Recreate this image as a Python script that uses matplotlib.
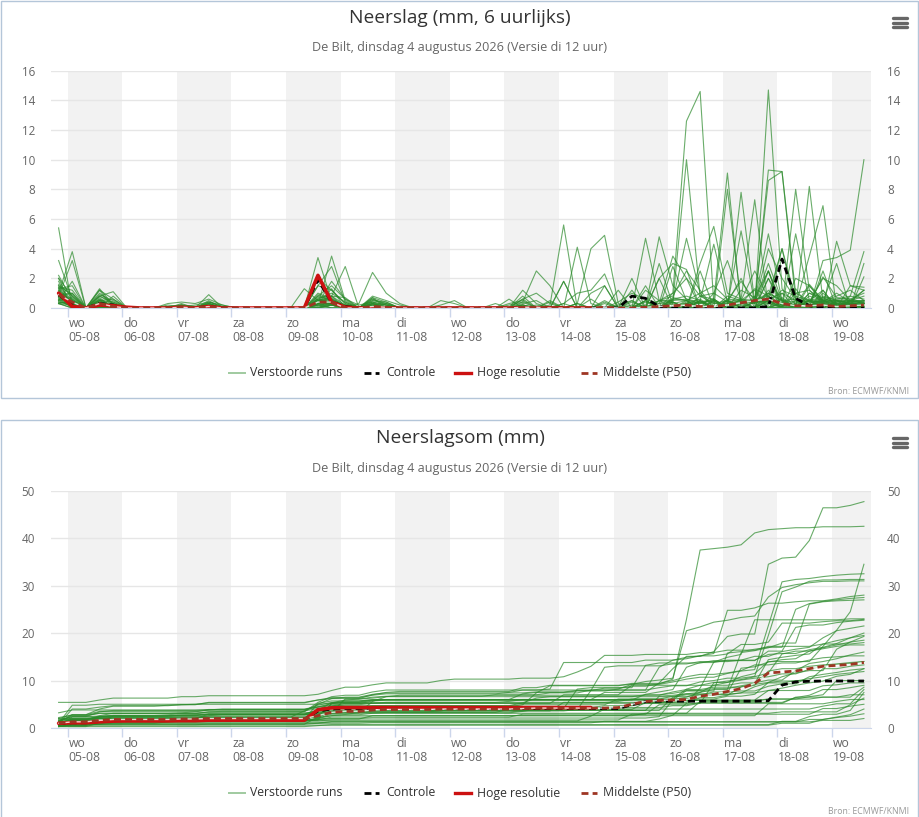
import numpy as np
import pandas as pd
import matplotlib
matplotlib.use('Agg')
import matplotlib.pyplot as plt
from matplotlib.lines import Line2D
from matplotlib.patches import Rectangle

plt.rcParams['font.family'] = ['Open Sans', 'DejaVu Sans']

# ---------------- data ----------------
first_time = '2026-08-04 20:00'   # first 6-hourly value (local time)
n_steps = 60
day_names = ['wo', 'do', 'vr', 'za', 'zo', 'ma', 'di', 'wo', 'do', 'vr', 'za', 'zo', 'ma', 'di', 'wo']
day_dates = ['05-08', '06-08', '07-08', '08-08', '09-08', '10-08', '11-08', '12-08',
             '13-08', '14-08', '15-08', '16-08', '17-08', '18-08', '19-08']

# perturbed ensemble members, 6-hourly precipitation (mm)
run01 = [5.4,0,0,0.5,0.4,0,0,0,0,0.3,0,0.2, 0,0,0,0,0,0,0,0.3,0.8,0.7,0,0.5,
         0.4,0,0,0,0.5,0.3,0,0,0,0,0.2,0, 0,0.3,1.0,1.2,2.3,0,0,0.2,0,0,0,0.4,
         0,0.5,0,0,0.8,0,0,0,0.5,0,0,0.3]
run02 = [1.2,0.4,0,0.8,0.3,0,0,0,0.1,0.2,0,0.4, 0.1,0,0,0,0,0,0,1.5,1.2,0.3,0,0.6,
         0.3,0,0,0,0,0,0,0,0,0,0,0.2, 0,0,0.3,0,0.5,0,0.4,0,0.5,1.0,12.6,14.6,
         0.3,0.3,0.5,2.5,0.7,0.2,0.2,0,0.2,0,0,0.1]
run03 = [0.8,1.0,0,0.6,0.1,0,0,0,0,0.1,0,0.3, 0,0,0,0,0,0,0,0.6,1.0,0.4,0,0.3,
         0.2,0,0,0,0,0,0,0,0,0.2,0.4,0, 0,0,0,0,1.5,0,0,0,2.0,3.0,2.6,0,
         1.0,3.2,0.5,0,14.7,1.3,0.2,3.5,6.9,0,0.5,0.8]
run04 = [2.0,0.8,0,1.2,0.6,0,0,0,0.2,0.1,0,0.5, 0,0,0,0,0,0,0,0.5,0.3,0,0,0.8,
         0.5,0.2,0,0,0,0,0,0,0,0,0.8,0, 0.5,0,0,0,0,0,0.2,0,0,0.5,0.6,0.4,
         0,0.8,0.5,0.3,9.3,9.2,0.5,0.2,0.4,0.3,0.2,0.1]
run05 = [1.5,0.5,0,0.3,0.2,0,0,0,0,0.2,0,0.3, 0,0,0,0,0,0,0,0.8,1.5,0.6,0.2,0.4,
         0.2,0,0,0,0,0,0,0,0.3,0,0,0, 0.4,0,0,0.6,0,0,0,0,0.5,0.4,0,0.8,
         0.3,0.5,0,0.4,8.6,9.2,1.0,1.2,0.3,0,0.1,0]
run06 = [0.7,0.3,0,0.2,0.1,0,0,0,0,0.1,0,0.2, 0,0,0,0,0,0,0,0.4,0.6,0.2,0,0.3,
         0.1,0,0,0,0,0,0,0,0,0,0.3,0.5, 0,0.3,0,0,0.4,0,0,0.5,0,1.0,2.0,0.8,
         0.6,0,1.2,0.7,2.5,0,0,0,3.2,3.4,3.9,10.0]
run07 = [0.8,3.2,0,0.4,0.3,0,0,0,0,0.2,0.1,0.3, 0,0,0,0,0,0,0,0.6,0.5,0,0,0.5,
         0.3,0,0,0,0,0,0,0,0,0.3,0.5,0, 0.2,5.6,0,0,0,0,0,0.5,0,0,0.3,0.6,
         0,0.4,2.0,0,0.5,4.0,0,0,0.3,0.2,0,0.3]
run08 = [1.0,0.6,0,0.5,0,0,0,0,0,0,0,0.1, 0,0,0,0,0,0,0,0.3,0.7,0,0,0.2,
         0,0,0,0,0,0,0,0,0,0,0.2,0, 0,0,0.3,4.0,4.9,0.3,0,0,0,0.4,0,0.5,
         0,0,0.3,0,1.2,0.2,0,0.8,0.5,0.8,1.2,0.5]
run09 = [0.6,0.2,0,0,0.2,0,0,0,0.3,0.4,0.3,0.6, 0.2,0,0,0,0,0,0,0.2,0.4,0,0,0,
         0,0,0,0,0.2,0.5,0,0,0,0,0,0, 0,0,4.1,0.3,0,0,0,4.7,0.5,0,0,0,
         0.5,0,0,0,2.0,0,5.0,0.5,0,0.5,0.3,0.2]
run10 = [1.4,0.3,0,0.9,0.5,0,0,0,0,0,0,0.3, 0,0,0,0,0,0,0,2.0,1.2,0.3,0,0.7,
         0.4,0,0,0,0,0,0,0,0,0,0,0, 0,0,0,0,0,0,0,0,4.8,1.5,0.6,0.3,
         0.5,9.1,0,0.5,1.0,0,0.3,0.2,0,0.4,0.5,0.3]
run11 = [0.9,1.0,0,0.3,0,0,0,0,0,0.1,0,0, 0,0,0,0,0,0,1.3,0.5,0.3,0,0,0.3,
         0,0,0,0,0,0,0,0,0,0,0.6,1.0, 0.3,0,0,0,0,0,0,0.4,0,0.3,0.5,0,
         0,8.0,0.3,0.5,0.4,0,8.0,1.2,0.5,0.3,0.3,0.2]
run12 = [1.6,0.8,0,1.0,0.3,0,0,0,0,0,0,0.2, 0,0,0,0,0,0,0,0.5,0.8,0.2,0,0,
         0,0,0,0,0,0,0,0,0,0,0,0, 0,0,0,0,0,0.2,0.5,0,0,0.6,0.5,0.3,
         0.6,0,7.8,0.4,0.6,1.0,0,8.2,0.5,0.2,0.1,0.1]
run13 = [1.3,1.5,0,0.7,0,0,0,0,0,0,0,0.3, 0,0,0,0,0,0,0,1.0,0.6,0,0,0.4,
         0.2,0,0,0,0,0,0,0,0,0,1.2,0.3, 0,0,0.3,0,0,0.4,1.0,0.6,0.3,0.4,10.0,0.8,
         1.0,0.4,0.6,0.3,4.0,2.0,0.6,0.4,0.3,0,0.1,0]
run14 = [0.5,0.1,0,0.8,1.1,0,0,0,0.1,0.1,0,0.1, 0,0,0,0,0,0,0,0.3,0.3,0,0,0.2,
         0,0,0,0,0,0,0,0,0,0,0,0, 0,1.8,0,0,0,0,0,0,0,0,0,3.0,
         5.5,1.0,0.6,7.3,0,0,0,0,0,0,0.2,0]
run15 = [2.2,0.5,0,0.4,0,0,0,0,0,0.1,0.2,0.4, 0.2,0,0,0,0,0,0,0.5,0.4,0.2,0,0.6,
         0.2,0,0,0,0,0,0,0,0,0,0,0, 0,0,0,0,0,0,0,1.2,0.5,0.5,4.7,1.0,
         0,0.5,0,0.8,0,1.0,0.5,0.4,2.0,1.5,0.5,0.5]
run16 = [0.8,0.2,0,0.3,0.2,0,0,0,0,0,0,0, 0,0,0,0,0,0,0,0.3,0.2,0,0,0.1,
         0,0,0,0,0,0,0,0,0,0,0,0, 0,0,0,0,0,0,0,0,0.3,3.5,2.0,0,
         0.4,0,0.6,0.5,5.0,0.5,0.4,0.3,2.1,0.7,0.6,1.0]
run17 = [0.4,0.3,0,0,0,0,0,0,0,0,0,0.1, 0,0,0,0,0,0,0,0.2,0,0,0,0.1,
         0,0,0,0,0,0,0,0,0,0,0,0, 0,0,0,0,0.3,0,0,0,0.5,0.8,2.5,1.2,
         0,0.5,1.8,0.5,0.4,1.2,0.8,0.5,0,4.5,1.5,1.2]
run18 = [1.4,1.2,0,0.5,0,0,0,0,0,0,0,0.1, 0,0,0,0,0,0,0,0.1,0.5,0,0,0.3,
         0,0,0,0,0,0,0,0,0,0,0.2,0, 0,0,0,0,0,0,0,0,0,0.4,0,0.5,
         4.3,0.4,0.3,0.6,0.8,4.0,0.6,0,0.7,0.6,0.6,0.4]
run19 = [1.1,0,0,1.3,0.2,0,0,0,0,0.1,0.1,0, 0,0,0,0,0,0,0,0.5,0.2,0,0,0.2,
         0,0,0,0,0,0,0,0,0,0,0,0, 0,0,0,0,0,0,0,0,3.0,0.2,0.3,0,
         0,0.2,5.2,0.3,1.0,0.5,0.2,1.6,0.5,0.5,0.3,0]
run20 = [1.0,3.8,0,0.2,0,0,0,0,0,0,0,0, 0,0,0,0,0,0,0,0,0.2,0,0,0,
         0,0,0,0,0,0,0,0,0,0,0,0, 0,1.8,0,0,0,0,2.0,0,0,0,0,0,
         0,0,0.5,0,0.6,0,2.0,1.5,0.4,0.6,0.8,0.6]
run21 = [0.9,0.5,0,0.6,0,0,0,0,0,0,0,0.9, 0,0,0,0,0,0,0,0.9,0.5,0.1,0,0,
         0.1,0,0,0,0,0,0,0,0,0,0.4,2.5, 1.5,0,0,0,0,0,0.5,0,0,0.6,0.8,0.5,
         0,0.3,0.5,1.2,0,0.4,0,0.6,0.5,0.2,0.2,0]
run22 = [0.5,0.7,0,0.1,0,0,0,0,0,0,0,0.1, 0,0,0,0,0,0,0,0.7,0.8,0,0.3,2.4,
         1.0,0.3,0,0,0,0,0,0,0,0,0,0, 0,0,0,0,0,0,0,0,0,0.7,0.5,0,
         0.5,0,0,0.4,3.0,0.5,0,0.5,0.3,0.2,0.3,0.2]
run23 = [1.3,0.3,0,0,0,0,0,0,0,0.2,0,0, 0,0,0,0,0,0,0,3.4,0.5,0,0,0.3,
         0,0,0,0,0,0,0,0,0,0,0,0, 0,0,0,0,0,0,0,0,0,0,0.5,1.0,
         1.5,0.6,0.5,0.4,0.3,0.6,0,1.0,0.7,0.3,0.2,0.4]
run24 = [0.3,0,0,0.8,0.4,0,0,0,0,0,0,0, 0,0,0,0,0,0,0,0.2,3.5,0.5,0,0.2,
         0,0,0,0,0,0,0,0,0,0,0,0, 0,0,0,0,0,0,0,0,0,0,0.3,0.4,
         0.5,0,0.3,1.3,0.8,0,0.5,0,2.5,0,0.5,0.3]
run25 = [1.2,0.1,0,0.3,0,0,0,0,0,0,0,0.4, 0.1,0,0,0,0,0,0,0.4,0.8,2.8,0,0.2,
         0.3,0,0,0,0,0,0,0,0,0,0,0, 0,0,0,0,0,0,0,0,0,0,0,0.4,
         0.6,0,0.2,0,1.0,0.5,0,1.5,0.5,0.4,0.5,0.3]
run26 = [0.6,0,0,0.2,0,0,0,0,0,0,0,0, 0,0,0,0,0,0,0,1.5,2.8,0.4,0,0.4,
         0,0,0,0,0,0,0,0,0,0,0,0, 0,0,0,0,0,0,0,0,0,0,0,0,
         0,0,0,0,2.0,0.5,0.6,0.5,0.4,1.0,0.4,1.2]
run27 = [3.2,0.6,0,0,0,0,0,0,0,0,0,0, 0,0,0,0,0,0,0,0.6,0.3,0,0,0,
         0,0,0,0,0,0,0,0,0,0,0.2,0, 0,0,0,0,0,1.2,0,0,0,0,0,0,
         0,0.6,0,0.4,2.5,0.3,0,0.5,0.4,0.5,0.3,0.3]
run28 = [0.4,0.3,0,0.5,0.6,0,0,0,0,0,0,0, 0,0,0,0,0,0,0,0.8,0.5,0.2,0,0,
         0,0,0,0,0,0,0,0,0,0.6,0,0, 0,0,0,0,0,0,0,1.5,0,0,0.4,0,
         0,0,0,0,0.3,0,0,0.5,0.4,3.0,0,0]
run29 = [1.8,0,0,0.2,0,0,0,0,0,0,0,0, 0,0,0,0,0,0,0,0.3,1.3,0,0,0.1,
         0,0,0,0,0,0,0,0,0,0,0,0, 0,0,0,0,0,0,0,0,0,2.8,0.5,0,
         0,0,0.4,0,0.5,0,0,0,1.0,0.2,0.4,0]
run30 = [0.3,0.2,0,1.2,0,0,0,0,0,0,0,0, 0,0,0,0,0,0,0,0,0.6,0,0,0,
         0,0,0,0,0,0,0,0,0,0,0.6,0, 0,0,0,0,0,0,0,0,2.0,0,0,0.5,
         0,0,0,0,0,0,1.0,0.5,1.2,0,0.4,0.5]
run31 = [0.5,1.8,0,0,0,0,0,0,0,0,0,0, 0,0,0,0,0,0,0,0.5,0.3,0,0,0,
         0,0,0,0,0,0,0,0,0,0,0,0, 0,0,0,0,0,0,0,0,0,0,0,2.5,
         0,0,0,0,0.5,0,0,0,0.4,0,0,2.1]
run32 = [1.0,0.2,0,0.3,0,0,0,0,0,0,0,0, 0,0,0,0,0,0,0,0,0,0,0,0,
         0,0,0,0,0,0,0,0,0,0,0,0, 0,0,0,1.0,1.5,0,0,0,0,0,0,0,
         0,0,0,0,0,0,0,0,0.6,0.5,0,3.0]
run33 = [0.3,0,0,0,0,0,0,0,0,0,0,0, 0,0,0,0,0,0,0,0.2,0.2,0,0,0,
         0,0,0,0,0,0,0,0,0,0,0,0, 0,0,0,0,0,0,0,0,0,0,0,0,
         0,0,0,0,0,0.7,0,1.0,0.5,0,0.8,3.8]
run34 = [1.5,0.9,0,0.1,0,0,0,0,0,0,0,0, 0,0,0,0,0,0,0,0.3,1.8,0.6,0,0,
         0,0,0,0,0,0,0,0,0,0,0,0, 0,0,0,0,0,0,0,0,0,0,0,0,
         0,0,0,0,0,0,1.3,0,0,0,0.5,0]
run35 = [0.7,0.1,0,0,0.8,0,0,0,0,0,0,0, 0,0,0,0,0,0,0,0.3,0,0,0,0.7,
         0,0,0,0,0,0,0,0,0,0,0,0, 0,0,0,0,0,0,0,0.5,0,0,0,0,
         0,0,0,0,0,0.3,0,0,0,0,1.5,1.4]
run36 = [2.0,0,0,0,0,0,0,0,0,0,0,0.2, 0,0,0,0,0,0,0,0,0.4,0,0,0,
         0,0,0,0,0,0,0,0,0,0,0,0, 0,0,0,0,0,0,0,0,0,0,0,0,
         0,0,0,0,2.5,0,0,0,0,0.5,0.4,0]
run37 = [0.6,0.4,0,0.5,0,0,0,0,0,0,0,0, 0,0,0,0,0,0,0,0,0.2,0,0,0,
         0,0,0,0,0,0,0,0,0,0,0,0, 0,0,0,0,0,0,1.2,0,0,0,0,0,
         0,0,0,0,0,0,0,0,1.2,0,0.5,0.4]
run38 = [0.4,0.2,0,0,0,0,0,0,0,0,0,0, 0,0,0,0,0,0,0,0,0,0,0,0,
         0,0,0,0,0,0,0,0,0,0,0,0, 0,0,0,0,0,0,0,0,0,0,0,0,
         0,0,0,0,0,0.4,0,0,0.8,0.5,0.5,1.2]
run39 = [0.3,0.5,0,0.2,0,0,0,0,0,0,0,0, 0,0,0,0,0,0,0,0,0.3,0,0,0,
         0,0,0,0,0,0,0,0,0,0,0,0, 0,0,0,0,0,0,0,0,0,0,0,0,
         0,0,0,0,0,0,0,0.5,0,0.4,0.3,0.5]
run40 = [0.8,0.3,0,0,0,0,0,0,0,0,0,0, 0,0,0,0,0,0,0,0,0.2,0,0,0,
         0,0,0,0,0,0,0,0,0,0,0,0, 0,0,0,0,0,0,0,0,0,0,0,0,
         0,0,0,0,0,0,0,0,0.3,0,0,0.4]

runs = [run01, run02, run03, run04, run05, run06, run07, run08, run09, run10,
        run11, run12, run13, run14, run15, run16, run17, run18, run19, run20,
        run21, run22, run23, run24, run25, run26, run27, run28, run29, run30,
        run31, run32, run33, run34, run35, run36, run37, run38, run39, run40]

# control run (6-hourly)
controle = [0.9,0.2,0,0.3,0.2,0,0,0,0,0,0,0.1, 0,0,0,0,0,0,0,1.9,0.4,0.1,0,0,
            0,0,0,0,0,0,0,0,0,0,0,0, 0,0,0,0,0,0,0.8,0.65,0.1,0,0,0,
            0,0,0,0,0.1,3.3,0.65,0.15,0.05,0,0,0]
# high resolution run (first 10 days)
hoge_resolutie = [1.0,0.1,0,0.2,0.15,0.05,0,0,0,0.05,0,0.1, 0,0,0,0,0,0,0,2.2,0.4,0.05,0,0,
                  0,0,0,0,0,0,0,0,0,0,0,0, 0,0,0,0]
# median (P50) of the 6-hourly values
p50_6h = [0.9,0.4,0,0.3,0.1,0,0,0,0,0.05,0,0.1, 0,0,0,0,0,0,0,0.4,0.4,0,0,0.1,
          0.05,0,0,0,0,0,0,0,0,0,0.05,0.05, 0,0,0,0,0.05,0,0,0.05,0.1,0.15,0.2,0.1,
          0.1,0.2,0.35,0.5,0.6,0.3,0.15,0.15,0.2,0.1,0.15,0.2]
# median (P50) of the accumulated precipitation
p50_som = [1.0,1.3,1.3,1.6,1.8,1.8,1.8,1.8,1.8,1.9,1.9,2.0,
           2.0,2.0,2.0,2.0,2.0,2.0,2.0,2.6,3.3,3.5,3.5,3.8,
           3.9,3.9,3.9,3.9,4.0,4.0,4.0,4.0,4.0,4.0,4.1,4.2,
           4.2,4.2,4.2,4.2,4.2,4.3,5.0,5.6,5.8,5.9,6.0,6.7,
           7.1,7.7,8.3,9.4,11.6,11.8,12.0,12.5,13.0,13.2,13.4,13.8]

for r in runs:
    assert len(r) == n_steps, len(r)

# ---------------- layout ----------------
W, H = 920, 817
fig = plt.figure(figsize=(W / 100, H / 100), dpi=100)
fig.patch.set_facecolor('white')

def fx(x):
    return x / W

def fy(y):
    return 1 - y / H

times = pd.date_range(first_time, periods=n_steps, freq='6h')
day0 = pd.Timestamp('2026-08-05 00:00')
t = ((times - day0) / pd.Timedelta(days=1)).to_numpy()

xlim = (-0.306, 14.713)
GREEN = '#2b8a2b'
RED = '#cc1111'
P50C = '#9e3524'
TXT = '#666666'

def make_axes(top_px, bottom_px):
    ax = fig.add_axes([fx(51), fy(bottom_px), fx(871) - fx(51), (bottom_px - top_px) / H])
    return ax

def setup(ax, ymax, ystep):
    ax.set_xlim(*xlim)
    ax.set_ylim(0, ymax)
    ax.set_facecolor('white')
    for d in range(0, len(day_names), 2):
        ax.axvspan(d, d + 1, color='#f2f2f2', lw=0, zorder=0)
    yt = np.arange(0, ymax + 0.01, ystep)
    ax.set_yticks(yt)
    ax.set_yticklabels([f'{v:g}' for v in yt])
    ax.set_axisbelow(True)
    ax.yaxis.grid(True, color='#e6e6e6', lw=1)
    ax.tick_params(axis='y', length=0, pad=11.5, labelsize=8.4, labelcolor=TXT,
                   left=False, right=False, labelleft=True, labelright=True)
    ax.set_xticks(range(len(day_names)))
    ax.set_xticklabels([])
    ax.tick_params(axis='x', length=6.5, width=1, color='#ccd6eb', direction='out')
    for s in ['top', 'left', 'right']:
        ax.spines[s].set_visible(False)
    ax.spines['bottom'].set_color('#ccd6eb')
    for d, (n, dt) in enumerate(zip(day_names, day_dates)):
        ax.annotate(f'{n}\n{dt}', xy=(d, 0), xycoords=('data', 'axes fraction'),
                    xytext=(0.6, -6.6), textcoords='offset points', ha='left', va='top',
                    fontsize=8.8, color=TXT, linespacing=1.12, annotation_clip=False)

def draw_series(ax, cumulative):
    for r in runs:
        y = np.cumsum(r) if cumulative else np.asarray(r)
        ax.plot(t, y, color=GREEN, lw=0.8, alpha=0.7, zorder=2)
    c = np.cumsum(controle) if cumulative else np.asarray(controle)
    ax.plot(t, c, color='black', lw=2, ls=(0, (2.5, 1.5)), zorder=3)
    h = np.cumsum(hoge_resolutie) if cumulative else np.asarray(hoge_resolutie)
    ax.plot(t[:len(h)], h, color=RED, lw=2.6, zorder=4, solid_capstyle='round')
    p = np.asarray(p50_som if cumulative else p50_6h)
    ax.plot(t, p, color='white', lw=1.0, zorder=5, alpha=0.8)
    ax.plot(t, p, color=P50C, lw=2, ls=(0, (2.5, 1.5)), zorder=6)

def panel_frame(top, bottom):
    fig.add_artist(Rectangle((fx(1), fy(bottom)), fx(918) - fx(1), (bottom - top) / H,
                             transform=fig.transFigure, fill=False, ec='#b4c6d9', lw=1))

def menu_icon(ys):
    for y in ys:
        fig.add_artist(Line2D([fx(893), fx(907)], [fy(y), fy(y)], color=TXT, lw=2.4,
                              solid_capstyle='round', transform=fig.transFigure))

def legend(y):
    items = [
        (229, 245, 250, 'Verstoorde runs', dict(color=GREEN, lw=1.4, alpha=0.45)),
        (364, 379, 386, 'Controle', dict(color='black', lw=2, ls=(0, (2.5, 1.5)))),
        (455, 471, 477, 'Hoge resolutie', dict(color=RED, lw=2.4)),
        (581, 597, 603, 'Middelste (P50)', dict(color=P50C, lw=2, ls=(0, (2.5, 1.5)))),
    ]
    for x0, x1, xt, label, kw in items:
        fig.add_artist(Line2D([fx(x0), fx(x1)], [fy(y), fy(y)], transform=fig.transFigure, **kw))
        fig.text(fx(xt), fy(y), label, ha='left', va='center', fontsize=8.8, color='#333333')

def titles(ty, sy, title):
    fig.text(0.5, fy(ty), title, ha='center', va='center', fontsize=13.8, color='#333333')
    fig.text(0.5, fy(sy), 'De Bilt, dinsdag 4 augustus 2026 (Versie di 12 uur)',
             ha='center', va='center', fontsize=9.1, color=TXT)

# ---------------- top panel ----------------
panel_frame(1, 398)
titles(18, 47, 'Neerslag (mm, 6 uurlijks)')
ax1 = make_axes(70.7, 308)
setup(ax1, 16, 2)
draw_series(ax1, cumulative=False)
legend(373)
fig.text(fx(909), fy(392), 'Bron: ECMWF/KNMI', ha='right', va='center', fontsize=6.3, color='#999999')
menu_icon([18.3, 22.6, 26.9])

# ---------------- bottom panel ----------------
panel_frame(420, 820)
titles(438, 468, 'Neerslagsom (mm)')
ax2 = make_axes(490.7, 728)
setup(ax2, 50, 10)
draw_series(ax2, cumulative=True)
legend(793)
fig.text(fx(909), fy(812), 'Bron: ECMWF/KNMI', ha='right', va='center', fontsize=6.3, color='#999999')
menu_icon([438.3, 442.6, 446.9])

fig.savefig('out.png', dpi=100, facecolor='white')
